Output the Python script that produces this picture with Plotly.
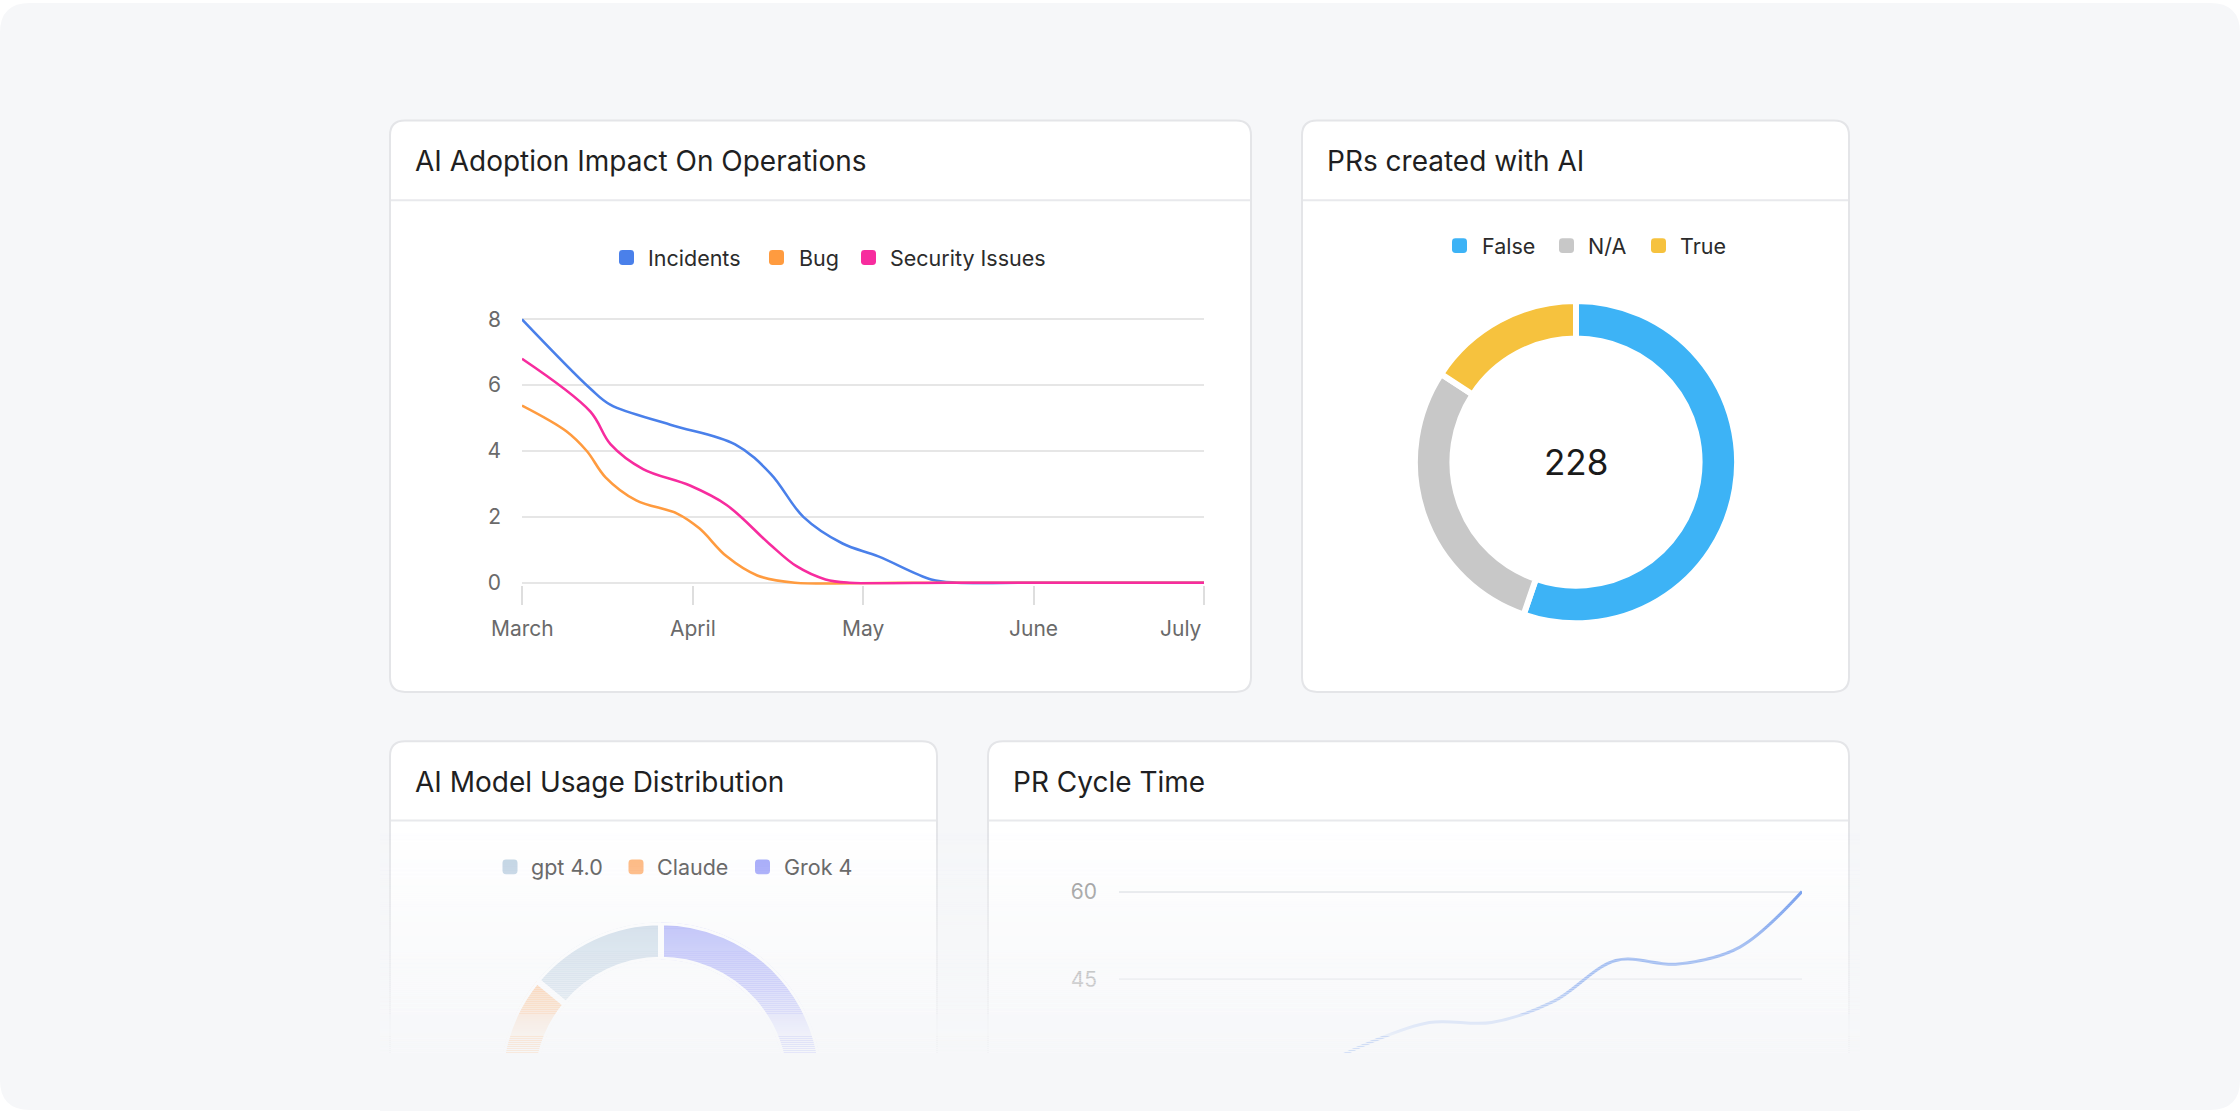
import numpy as np
import plotly.graph_objects as go

W, H = 2240, 1120
FONT = "Inter"
BG = "#f6f7f9"

# ---------------- data ----------------
months = ["March", "April", "May", "June", "July"]
month_pos = [0, 1, 2, 3, 4]

incidents_x = [0, 0.40, 0.52, 0.87, 1.25, 1.46, 1.65, 1.88, 2.09, 2.40, 2.55, 3.0, 3.5, 4.0]
incidents_y = [8.0, 5.9, 5.4, 4.8, 4.2, 3.3, 2.0, 1.19, 0.8, 0.1, 0, 0, 0, 0]
bug_x = [0, 0.26, 0.38, 0.49, 0.67, 0.91, 1.04, 1.2, 1.38, 1.6, 2.2, 3.0, 4.0]
bug_y = [5.38, 4.6, 4.0, 3.2, 2.5, 2.1, 1.65, 0.8, 0.22, 0, 0, 0, 0]
security_x = [0, 0.40, 0.52, 0.71, 0.985, 1.2, 1.455, 1.61, 1.78, 1.92, 2.5, 3.0, 4.0]
security_y = [6.8, 5.2, 4.2, 3.45, 2.95, 2.36, 1.16, 0.5, 0.1, 0, 0, 0, 0]
ops_names = ["Incidents", "Bug", "Security Issues"]
ops_colors = ["#4A80EA", "#FF9B3F", "#F72C9E"]
ops_ticks = [0, 2, 4, 6, 8]

pr_labels = ["False", "N/A", "True"]
pr_values = [126, 66, 36]
pr_colors = ["#3DB3F6", "#C8C8C8", "#F6C23E"]

model_labels = ["gpt 4.0", "Claude", "Grok 4"]
model_values = [14, 32, 54]
model_colors = ["#BCD0E1", "#FFAF6E", "#9A9FF9"]

cycle_weeks = ["W1", "W2", "W3", "W4", "W5", "W6", "W7", "W8", "W9", "W10", "W11", "W12"]
cycle_hours = [24, 22, 25, 29, 34, 37.6, 37.6, 41.2, 48.2, 47.6, 50.5, 60]
cycle_ticks = [30, 45, 60]


# ---------------- helpers ----------------
def X(px):
    return px / W


def Y(py):
    return 1 - py / H


def rrect(x0, y0, x1, y1, r):
    return (f"M {X(x0 + r)},{Y(y0)} L {X(x1 - r)},{Y(y0)} Q {X(x1)},{Y(y0)} {X(x1)},{Y(y0 + r)} "
            f"L {X(x1)},{Y(y1 - r)} Q {X(x1)},{Y(y1)} {X(x1 - r)},{Y(y1)} "
            f"L {X(x0 + r)},{Y(y1)} Q {X(x0)},{Y(y1)} {X(x0)},{Y(y1 - r)} "
            f"L {X(x0)},{Y(y0 + r)} Q {X(x0)},{Y(y0)} {X(x0 + r)},{Y(y0)} Z")


shapes = []
annotations = []
traces = []

# outer background
shapes.append(dict(type="path", xref="paper", yref="paper", path=rrect(0, 0, W, H, 30),
                   fillcolor=BG, line=dict(width=0), layer="below"))

# cards: (x0, y0, x1, y1, separator_y, title)
cards = [
    (390, 119, 1251, 697, 199.5, "AI Adoption Impact On Operations"),
    (1302, 119, 1849, 697, 199.5, "PRs created with AI"),
    (390, 747, 937, 1110, 827, "AI Model Usage Distribution"),
    (988, 747, 1849, 1110, 827, "PR Cycle Time"),
]
for x0, y0, x1, y1, sy, title in cards:
    shapes.append(dict(type="path", xref="paper", yref="paper", path=rrect(x0, y0, x1, y1, 15),
                       fillcolor="white", line=dict(color="#e4e5e8", width=2), layer="below"))
    shapes.append(dict(type="line", xref="paper", yref="paper", x0=X(x0 + 1), x1=X(x1 - 1), y0=Y(sy), y1=Y(sy),
                       line=dict(color="#e8e9ec", width=2), layer="below"))
    annotations.append(dict(text=title, xref="paper", yref="paper", x=X(x0 + 23), y=Y((y0 + sy) / 2 + 1),
                            xanchor="left", yanchor="middle", showarrow=False,
                            font=dict(family=FONT, size=28, color="#1f1f22")))


def legend(items, colors, xs_marker, xs_text, yc, text_color):
    for name, col, xm, xt in zip(items, colors, xs_marker, xs_text):
        shapes.append(dict(type="path", xref="paper", yref="paper",
                           path=rrect(xm, yc - 7.5, xm + 15, yc + 7.5, 3.5),
                           fillcolor=col, line=dict(width=0), layer="above"))
        annotations.append(dict(text=name, xref="paper", yref="paper", x=X(xt), y=Y(yc),
                                xanchor="left", yanchor="middle", showarrow=False,
                                font=dict(family=FONT, size=21.5, color=text_color)))


legend(ops_names, ops_colors, [619, 769, 861], [646, 797, 888], 257.5, "#2b2b2b")
legend(pr_labels, pr_colors, [1452, 1559, 1651], [1480, 1586, 1678], 245.5, "#2b2b2b")
legend(model_labels, model_colors, [502.5, 628.5, 755], [529, 655, 781.5], 874, "#6a6a6a")

# ---------------- line chart: AI adoption ----------------
for xs, ys, name, col in zip([incidents_x, bug_x, security_x], [incidents_y, bug_y, security_y],
                             ops_names, ops_colors):
    traces.append(go.Scatter(x=xs, y=ys, name=name, mode="lines",
                             line=dict(color=col, width=2.6, shape="spline", smoothing=1),
                             xaxis="x", yaxis="y", hoverinfo="skip", showlegend=False))

for i, m in enumerate(months):
    annotations.append(dict(text=m, xref="x", yref="paper", x=month_pos[i], y=Y(633),
                            xanchor="right" if i == len(months) - 1 else "center", yanchor="middle",
                            showarrow=False, font=dict(family=FONT, size=21, color="#6a6a6a")))

# ---------------- donut: PRs ----------------
traces.append(go.Pie(labels=pr_labels, values=pr_values, hole=0.767, sort=False, direction="clockwise",
                     rotation=0, marker=dict(colors=pr_colors, line=dict(color="white", width=6)),
                     textinfo="none", hoverinfo="skip", showlegend=False,
                     domain=dict(x=[X(1413), X(1739)], y=[Y(627.5), Y(301.5)])))
annotations.append(dict(text=str(sum(pr_values)), xref="paper", yref="paper", x=X(1576), y=Y(464.5),
                        xanchor="center", yanchor="middle", showarrow=False,
                        font=dict(family=FONT, size=35, color="#1a1a1a")))

# ---------------- donut: model usage (polar) ----------------
tot = float(sum(model_values))
widths = np.array(model_values) / tot * 360.0
centers = np.cumsum(widths) - widths / 2
traces.append(go.Barpolar(r=[1] * len(model_values), theta=centers, width=widths,
                          marker=dict(color=model_colors, line=dict(color="white", width=6)),
                          subplot="polar", hoverinfo="skip", showlegend=False))

# ---------------- PR cycle time ----------------
traces.append(go.Scatter(x=cycle_weeks, y=cycle_hours, mode="lines",
                         line=dict(color="#4A80EA", width=3, shape="spline", smoothing=1),
                         xaxis="x2", yaxis="y2", hoverinfo="skip", showlegend=False))

# ---------------- fade overlay ----------------
y_start, y_full = 828, 1063
y = y_start
while y < y_full:
    a = min(1.0, max(0.0, (y + 1 - 826) / (y_full - 826)))
    shapes.append(dict(type="rect", xref="paper", yref="paper", x0=X(380), x1=X(1860), y0=Y(y + 2), y1=Y(y),
                       fillcolor=f"rgba(246,247,249,{a:.3f})", line=dict(width=0), layer="above"))
    y += 2
shapes.append(dict(type="rect", xref="paper", yref="paper", x0=X(380), x1=X(1860), y0=Y(1121), y1=Y(y_full),
                   fillcolor=BG, line=dict(width=0), layer="above"))

fig = go.Figure(data=traces)

p1 = (586.5 - 320) / 8.0
p2 = 88.7 / 15.0
fig.update_layout(
    width=W, height=H, margin=dict(l=0, r=0, t=0, b=0),
    paper_bgcolor="white", plot_bgcolor="rgba(0,0,0,0)", showlegend=False,
    font=dict(family=FONT),
    xaxis=dict(domain=[X(522), X(1204)], range=[0, 4], tickvals=month_pos, showticklabels=False,
               ticks="outside", ticklen=19, tickwidth=1.5, tickcolor="#dedede",
               showgrid=False, zeroline=False, showline=False, fixedrange=True),
    yaxis=dict(domain=[Y(586.5 + 0.06 * p1), Y(320 - 0.3 * p1)], range=[-0.06, 8.3], tickvals=ops_ticks,
               showgrid=True, gridcolor="#e6e6e6", gridwidth=1.6, zeroline=False, showline=False,
               ticks="", ticklabelstandoff=20, tickfont=dict(family=FONT, size=21, color="#6a6a6a"),
               fixedrange=True),
    xaxis2=dict(domain=[X(1119), X(1802)], range=[0, len(cycle_weeks) - 1], showticklabels=False,
                showgrid=False, zeroline=False, showline=False, ticks="", fixedrange=True),
    yaxis2=dict(domain=[0, Y(899 - 2 * p2)], range=[60 - (1120 - 899) / p2, 62], tickvals=cycle_ticks,
                showgrid=True, gridcolor="#e4e6ea", gridwidth=1.6, zeroline=False, showline=False,
                ticks="", ticklabelstandoff=21, tickfont=dict(family=FONT, size=21, color="#8a8a8a"),
                fixedrange=True, anchor="x2"),
    polar=dict(domain=dict(x=[X(498), X(824)], y=[Y(1093), Y(930)]), sector=[0, 180], hole=0.767,
               bgcolor="rgba(0,0,0,0)",
               angularaxis=dict(visible=False, direction="counterclockwise", rotation=90),
               radialaxis=dict(visible=False, range=[0, 1])),
    shapes=shapes, annotations=annotations,
)

fig.write_html("out.html", config={"displayModeBar": False})
